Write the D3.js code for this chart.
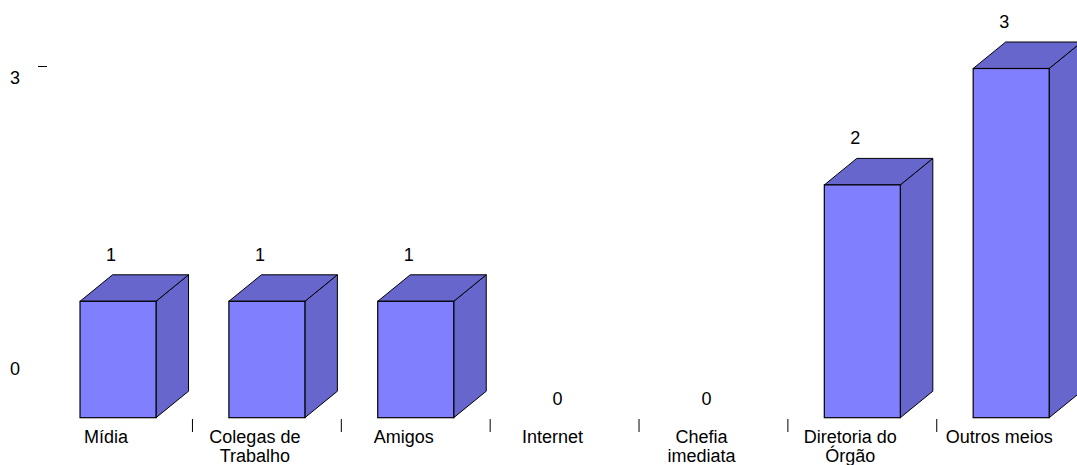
<!DOCTYPE html>
<html>
<head>
<meta charset="utf-8">
<script src="https://cdn.jsdelivr.net/npm/d3@7"></script>
<style>
  html, body { margin: 0; padding: 0; background: #ffffff; }
  svg { display: block; }
  text { font-family: "Liberation Sans", Arial, sans-serif; font-size: 18px; fill: #000; }
</style>
</head>
<body>
<svg id="chart" width="1077" height="465"></svg>
<script>
// Categories (each entry is split into display lines)
const categories = ["Mídia", "Colegas de Trabalho", "Amigos", "Internet", "Chefia imediata", "Diretoria do Órgão", "Outros meios"];
const categoryLines = [["Mídia"], ["Colegas de", "Trabalho"], ["Amigos"], ["Internet"], ["Chefia", "imediata"], ["Diretoria do", "Órgão"], ["Outros meios"]];
const values = [1, 1, 1, 0, 0, 2, 3];
const axisTicks = [0, 3];

const svg = d3.select("#chart");

// Horizontal band scale for the category slots
const x = d3.scaleBand().domain(categories).range([43.6, 1085.6]).padding(0);
const barW = 76;
const depthX = 32.5, depthY = 26.5;

// Vertical value scale for the bar fronts
const y = d3.scaleLinear().domain([0, 3]).range([417.7, 68.5]);

// Value axis drawn on the back wall
const yAxisScale = d3.scaleLinear().domain([0, 3]).range([357, 66]);

const frontColor = "#8080ff";
const shadeColor = "#6666cc";

const bars = svg.append("g").selectAll("g.bar")
  .data(categories.map((c, i) => ({ c, v: values[i], i })).filter(d => d.v > 0))
  .join("g").attr("class", "bar");

bars.each(function(d) {
  const g = d3.select(this);
  const x0 = x(d.c) + (x.bandwidth() - barW) / 2;
  const x1 = x0 + barW;
  const yt = y(d.v), yb = y(0);
  // side face
  g.append("path")
    .attr("d", `M${x1},${yt}L${x1 + depthX},${yt - depthY}L${x1 + depthX},${yb - depthY}L${x1},${yb}Z`)
    .attr("fill", shadeColor).attr("stroke", "#000").attr("stroke-width", 1).attr("stroke-linejoin", "round");
  // top face
  g.append("path")
    .attr("d", `M${x0},${yt}L${x0 + depthX},${yt - depthY}L${x1 + depthX},${yt - depthY}L${x1},${yt}Z`)
    .attr("fill", shadeColor).attr("stroke", "#000").attr("stroke-width", 1).attr("stroke-linejoin", "round");
  // front face
  g.append("rect")
    .attr("x", x0).attr("y", yt).attr("width", barW).attr("height", yb - yt)
    .attr("fill", frontColor).attr("stroke", "#000").attr("stroke-width", 1.2);
});

// Value labels
svg.append("g").selectAll("text")
  .data(categories.map((c, i) => ({ c, v: values[i] })))
  .join("text")
  .attr("x", d => x(d.c) + x.bandwidth() / 2 - 7)
  .attr("y", d => (d.v > 0 ? y(d.v) - depthY - 14 : y(0) - 13))
  .attr("text-anchor", "middle")
  .text(d => d.v);

// Category tick marks between slots
const bounds = categories.slice(1).map(c => x(c));
svg.append("g").selectAll("line")
  .data(bounds)
  .join("line")
  .attr("x1", d => d).attr("x2", d => d)
  .attr("y1", 419).attr("y2", 432)
  .attr("stroke", "#000").attr("stroke-width", 1);

// Category labels
const labels = svg.append("g").selectAll("text")
  .data(categories.map((c, i) => ({ c, lines: categoryLines[i] })))
  .join("text")
  .attr("text-anchor", "middle")
  .attr("transform", d => `translate(${x(d.c) + x.bandwidth() / 2 - 12},443)`);
labels.selectAll("tspan")
  .data(d => d.lines)
  .join("tspan")
  .attr("x", 0)
  .attr("dy", (d, i) => (i === 0 ? 0 : 19))
  .text(d => d);

// Value axis
const axis = svg.append("g")
  .attr("transform", "translate(47,0)")
  .call(d3.axisLeft(yAxisScale).tickValues(axisTicks).tickFormat(d3.format("d")).tickSize(9).tickPadding(18));
axis.select(".domain").remove();
axis.selectAll(".tick line").attr("stroke", "#000").attr("display", d => (d === 0 ? "none" : null));
axis.selectAll(".tick text")
  .attr("font-family", "Liberation Sans, Arial, sans-serif")
  .attr("font-size", 18)
  .attr("fill", "#000")
  .attr("dy", "0.95em");
</script>
</body>
</html>
